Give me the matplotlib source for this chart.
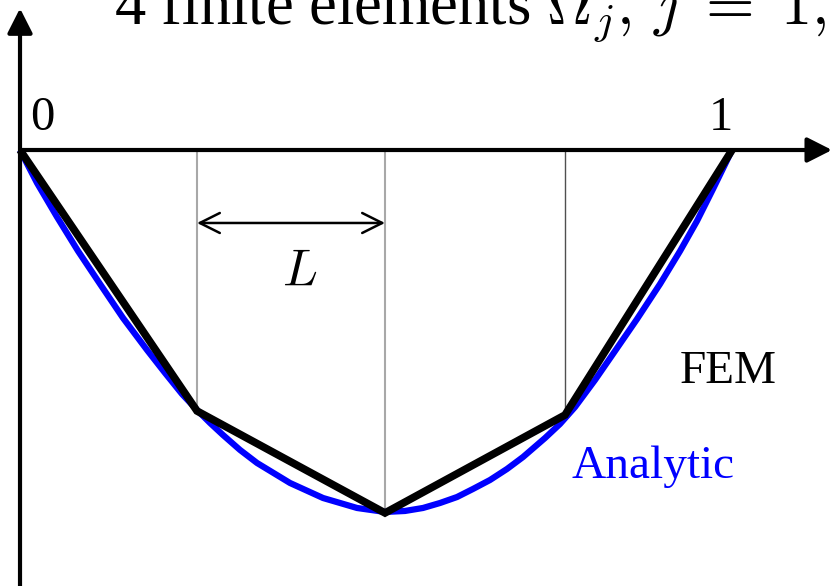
import matplotlib
matplotlib.use('Agg')
import matplotlib.pyplot as plt
from matplotlib.patches import FancyArrowPatch

plt.rcParams['font.family'] = ['Liberation Serif', 'DejaVu Serif']
plt.rcParams['mathtext.fontset'] = 'cm'

# mesh nodes and the piecewise linear FEM solution at them
nodes_x = [0.0, 0.2486, 0.5126, 0.7654, 1.0]
fem_u = [0.0, -0.3666, -0.5098, -0.3722, 0.0]

# analytic solution, sampled along the curve
analytic_x = [0.0, 0.0239, 0.0520, 0.0815, 0.1124, 0.1447, 0.1784, 0.2037,
              0.2275, 0.2486, 0.2669, 0.2851, 0.3090, 0.3329, 0.3792, 0.4256,
              0.4733, 0.5126, 0.5407, 0.5660, 0.5899, 0.6138, 0.6362, 0.6601,
              0.6840, 0.7065, 0.7374, 0.7584, 0.7795, 0.8076, 0.8357, 0.8666,
              0.8989, 0.9270, 0.9508, 0.9733, 1.0]
analytic_u = [0.0, -0.0463, -0.0941, -0.1419, -0.1882, -0.2360, -0.2809,
              -0.3132, -0.3427, -0.3652, -0.3834, -0.4003, -0.4213, -0.4396,
              -0.4677, -0.4888, -0.5028, -0.5084, -0.5070, -0.5028, -0.4958,
              -0.4874, -0.4761, -0.4635, -0.4480, -0.4312, -0.4045, -0.3848,
              -0.3610, -0.3230, -0.2823, -0.2374, -0.1882, -0.1419, -0.0997,
              -0.0548, 0.0]

title = r'4 finite elements $\Omega_j,\, j\;=\;1,\,\ldots,\,4$'
end_labels = ['0', '1']

fig = plt.figure(figsize=(8.32, 5.86), dpi=100)
ax = fig.add_axes([0, 0, 1, 1])
ax.set_xlim(-0.0281, 1.1404)
ax.set_ylim(-0.6124, 0.2107)
ax.axis('off')

# coordinate axes with arrow heads
axis_style = dict(arrowstyle='-|>,head_length=0.75,head_width=0.38',
                  lw=3.0, color='black', shrinkA=0, shrinkB=0,
                  mutation_scale=20)
ax.annotate('', xy=(1.1404, 0), xytext=(0, 0), arrowprops=axis_style)
ax.annotate('', xy=(0, 0.199), xytext=(0, -0.62), arrowprops=axis_style)

# element boundaries
grid_cols = ['#a8a8a8', '#a8a8a8', '#505050']
grid_lw = [1.5, 1.5, 1.0]
for i in range(1, 4):
    ax.plot([nodes_x[i], nodes_x[i]], [0, fem_u[i]], color=grid_cols[i - 1],
            lw=grid_lw[i - 1], zorder=1)

ax.plot(analytic_x, analytic_u, color='#0000ff', lw=4.5, zorder=2,
        solid_capstyle='butt', solid_joinstyle='round')
ax.plot(nodes_x, fem_u, color='black', lw=5.5, zorder=3,
        solid_joinstyle='miter', solid_capstyle='butt')

# element length marker
ax.add_patch(FancyArrowPatch((nodes_x[1], -0.1025), (nodes_x[2], -0.1025),
                             arrowstyle='<->,head_length=0.72,head_width=0.36',
                             mutation_scale=20, lw=1.8, color='black',
                             shrinkA=0, shrinkB=0))
ax.text(0.392, -0.191, '$L$', fontsize=37, ha='center', va='baseline')

ax.text(0.031, 0.0281, end_labels[0], fontsize=35, ha='center', va='baseline')
ax.text(0.985, 0.0281, end_labels[1], fontsize=35, ha='center', va='baseline')

ax.text(0.927, -0.327, 'FEM', fontsize=34, ha='left', va='baseline')
ax.text(0.775, -0.461, 'Analytic', fontsize=34, ha='left', va='baseline',
        color='#0000ff')

ax.text(0.132, 0.178, title, fontsize=45, ha='left', va='baseline')

fig.savefig('out.png', dpi=100)
